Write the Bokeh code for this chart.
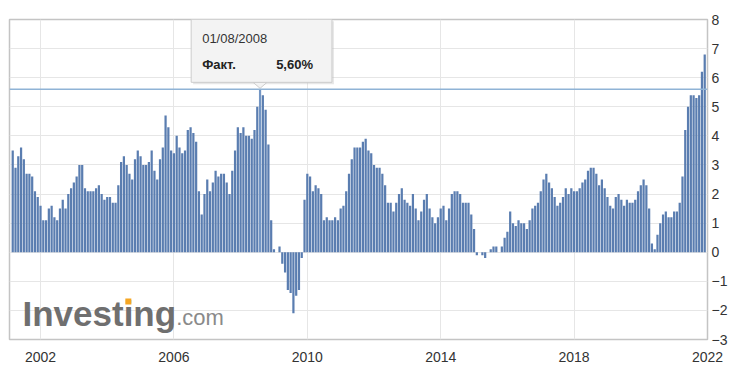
import pandas as pd
from bokeh.plotting import figure
from bokeh.models import Range1d, FixedTicker, Span, ColumnDataSource
from bokeh.core.properties import value
from bokeh.embed import file_html
from bokeh.resources import INLINE

# ---- data (year-on-year %, first value released March 2001) ----
first_release = "2001-03-01"
cpi_yoy = [
    3.5, 2.9, 3.3, 3.6, 3.2, 2.7, 2.7, 2.6, 2.1, 1.9, 1.6,
    1.1, 1.1, 1.5, 1.6, 1.2, 1.1, 1.5, 1.8, 1.5, 2.0, 2.2, 2.4,
    2.6, 3.0, 3.0, 2.2, 2.1, 2.1, 2.1, 2.2, 2.3, 2.0, 1.8, 1.9,
    1.9, 1.7, 1.7, 2.3, 3.1, 3.3, 3.0, 2.7, 2.5, 3.2, 3.5, 3.3,
    3.0, 3.0, 3.1, 3.5, 2.8, 2.5, 3.2, 3.6, 4.7, 4.3, 3.5, 3.4,
    4.0, 3.6, 3.4, 3.5, 4.2, 4.3, 4.1, 3.8, 2.1, 1.3, 2.0, 2.5,
    2.1, 2.4, 2.8, 2.6, 2.7, 2.7, 2.4, 2.0, 2.8, 3.5, 4.3, 4.1,
    4.3, 4.0, 4.0, 3.9, 4.2, 5.0, 5.6, 5.4, 4.9, 3.7, 1.1, 0.1,
    0.0, 0.2, -0.4, -0.7, -1.3, -1.4, -2.1, -1.5, -1.3, -0.2, 1.8, 2.7,
    2.6, 2.1, 2.3, 2.2, 2.0, 1.1, 1.2, 1.1, 1.1, 1.2, 1.1, 1.5,
    1.6, 2.1, 2.7, 3.2, 3.6, 3.6, 3.6, 3.8, 3.9, 3.5, 3.4, 3.0,
    2.9, 2.9, 2.7, 2.3, 1.7, 1.7, 1.4, 1.7, 2.0, 2.2, 1.8, 1.7,
    1.6, 2.0, 1.5, 1.1, 1.4, 1.8, 2.0, 1.5, 1.2, 1.0, 1.2, 1.5,
    1.6, 1.1, 1.5, 2.0, 2.1, 2.1, 2.0, 1.7, 1.7, 1.7, 1.3, 0.8,
    -0.1, 0.0, -0.1, -0.2, 0.0, 0.1, 0.2, 0.2, 0.0, 0.2, 0.5, 0.7,
    1.4, 1.0, 0.9, 1.1, 1.0, 1.0, 0.8, 1.1, 1.5, 1.6, 1.7, 2.1,
    2.5, 2.7, 2.4, 2.2, 1.9, 1.6, 1.7, 1.9, 2.2, 2.0, 2.2, 2.1,
    2.1, 2.2, 2.4, 2.5, 2.8, 2.9, 2.9, 2.7, 2.3, 2.5, 2.2, 1.9,
    1.6, 1.5, 1.9, 2.0, 1.8, 1.6, 1.8, 1.7, 1.7, 1.8, 2.1, 2.3,
    2.5, 2.3, 1.5, 0.3, 0.1, 0.6, 1.0, 1.3, 1.4, 1.2, 1.2, 1.4,
    1.4, 1.7, 2.6, 4.2, 5.0, 5.4, 5.4, 5.3, 5.4, 6.2, 6.8,
]
highlight_date = "2008-08-01"
x_ticks = [2002, 2006, 2010, 2014, 2018, 2022]
y_ticks = list(range(-3, 9))
tooltip_label = "Факт."
logo_main = "Investing"
logo_suffix = ".com"

FONT = "Liberation Sans"
BAR = "#5a7db0"
BAR_HI = "#7496c4"

dates = pd.date_range(first_release, periods=len(cpi_yoy), freq="MS")
xpos = [d.year + (d.month - 1) / 12 for d in dates]
hi_idx = list(dates).index(pd.Timestamp(highlight_date))
colors = [BAR_HI if i == hi_idx else BAR for i in range(len(cpi_yoy))]
src = ColumnDataSource(dict(x=xpos, v=cpi_yoy, c=colors))

W, H = 730, 374
FL, FR, FT, FB = 9, 708, 19, 339   # frame edges in figure pixels
X0, X1, Y0, Y1 = 2001.07, 2022.0, -3, 8
p = figure(width=W, height=H, x_range=Range1d(X0, X1), y_range=Range1d(Y0, Y1),
           y_axis_location="right", output_backend="svg", toolbar_location=None,
           min_border_left=FL, min_border_right=W - FR, min_border_top=FT,
           min_border_bottom=H - FB)
p.background_fill_color = "white"
p.border_fill_color = "white"
p.outline_line_color = "#c4c4c4"
p.outline_line_width = 1.5

p.xaxis.ticker = FixedTicker(ticks=x_ticks)
p.yaxis.ticker = FixedTicker(ticks=y_ticks)
for ax in (p.xaxis, p.yaxis):
    ax.axis_line_color = None
    ax.major_tick_line_color = None
    ax.minor_tick_line_color = None
    ax.major_tick_out = 0
    ax.major_label_text_font = FONT
    ax.major_label_text_font_size = "14px"
    ax.major_label_text_color = "#333333"
p.xaxis.major_label_standoff = 12
p.yaxis.major_label_standoff = 4
p.xgrid.grid_line_color = "#e6e6e6"
p.ygrid.grid_line_color = "#e6e6e6"

sx = (X1 - X0) / (FR - FL)
sy = (Y1 - Y0) / (FB - FT)
def px_x(px): return X0 + (px - FL) * sx
def px_y(py): return Y1 - (py - FT) * sy

# logo
p.text(x=[px_x(22)], y=[px_y(313)], text=[logo_main], text_font=value(FONT),
       text_font_style="bold", text_font_size=value("35px"), text_color="#6f6f6f",
       text_baseline="middle", text_align="left")
p.text(x=[px_x(176)], y=[px_y(317)], text=[logo_suffix], text_font=value(FONT),
       text_font_size=value("22px"), text_color="#8a8a8a",
       text_baseline="middle", text_align="left")
p.scatter(x=[px_x(128)], y=[px_y(301)], marker="square", size=6,
          fill_color="#f5a623", line_color=None)

p.vbar(x="x", top="v", bottom=0, width=0.8 / 12, source=src,
       fill_color="c", line_color=None)

hx, hy = xpos[hi_idx], cpi_yoy[hi_idx]
p.add_layout(Span(location=hy, dimension="width", line_color="#8fb3d6", line_width=1.5))

# tooltip
ax_px = FL + (hx - X0) / sx
ay_px = FT + (Y1 - hy) / sy
bl, br, bt, bb = ax_px - 69, ax_px + 72, ay_px - 70, ay_px - 7
p.quad(left=[px_x(bl + 2)], right=[px_x(br + 2)], top=[px_y(bt + 2)], bottom=[px_y(bb + 2)],
       fill_color="#bbbbbb", fill_alpha=0.35, line_color=None)
p.patch(x=[px_x(ax_px - 7), px_x(ax_px + 7), px_x(ax_px)],
        y=[px_y(bb), px_y(bb), px_y(ay_px - 1)],
        fill_color="#f3f3f3", line_color="#cccccc", line_width=1)
p.quad(left=[px_x(bl)], right=[px_x(br)], top=[px_y(bt)], bottom=[px_y(bb)],
       fill_color="#f3f3f3", line_color="#cccccc", line_width=1)
date_txt = dates[hi_idx].strftime("%d/%m/%Y")
val_txt = f"{hy:.2f}%".replace(".", ",")
p.text(x=[px_x(bl + 11)], y=[px_y(bt + 19)], text=[date_txt], text_font=value(FONT),
       text_font_size=value("13px"), text_color="#333333", text_baseline="middle")
p.text(x=[px_x(bl + 11)], y=[px_y(bt + 45)], text=[tooltip_label], text_font=value(FONT),
       text_font_style="bold", text_font_size=value("13px"), text_color="#222222",
       text_baseline="middle")
p.text(x=[px_x(br - 19)], y=[px_y(bt + 45)], text=[val_txt], text_font=value(FONT),
       text_font_style="bold", text_font_size=value("13px"), text_color="#222222",
       text_baseline="middle", text_align="right")

open("out.html", "w").write(file_html(p, INLINE))
